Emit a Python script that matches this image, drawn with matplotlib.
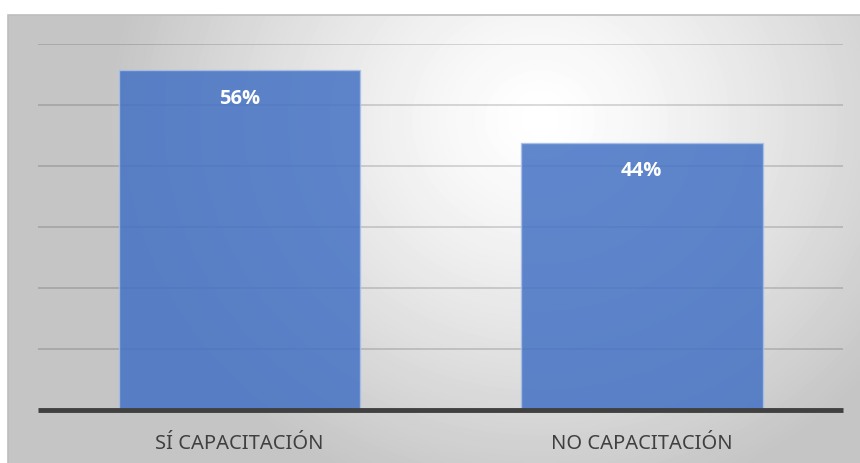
import numpy as np
import matplotlib
matplotlib.use("Agg")
import matplotlib.pyplot as plt
from matplotlib.patches import Rectangle

plt.rcParams['font.family'] = ['Noto Sans', 'DejaVu Sans']

categories = ['SÍ CAPACITACIÓN', 'NO CAPACITACIÓN']
values = [0.557, 0.438]
labels = ['56%', '44%']

W, H = 860, 463
fig = plt.figure(figsize=(W / 100, H / 100), dpi=100)

# chart area background with radial gradient (white centre, grey edges)
x0, y0 = 8, 15
bg = fig.add_axes([x0 / W, 0, 1 - x0 / W, 1 - y0 / H], zorder=0)
xx, yy = np.meshgrid(np.arange(x0, W), np.arange(y0, H))
r = np.sqrt((xx - 540) ** 2 + ((yy - 120) * 1.1) ** 2) / 430
shade = (255 - 58 * np.clip(r, 0, 1) ** 1.3) / 255
bg.imshow(shade, cmap='gray', vmin=0, vmax=1, aspect='auto', interpolation='bilinear')
bg.set_axis_off()
fig.patches.append(Rectangle((x0 / W, -0.01), 1.0, 1 - y0 / H + 0.01, transform=fig.transFigure,
                             fill=False, edgecolor='#bdbdbd', linewidth=1.2, zorder=1))

# plot area
ax = fig.add_axes([38 / W, 1 - 410 / H, (843 - 38) / W, (410 - 44) / H], zorder=2)
ax.patch.set_alpha(0)
x = np.arange(len(categories))
bars = ax.bar(x, values, width=0.6, color='#4472C4', alpha=0.85,
              edgecolor='#a9c0e8', linewidth=1, zorder=2)

for xi, v, lab in zip(x, values, labels):
    ax.annotate(lab, (xi, v), xytext=(0, -20.5), textcoords='offset points',
                ha='center', va='center', color='white', fontsize=14.5, fontweight='bold',
                family=['Open Sans', 'DejaVu Sans'], zorder=4)

ax.set_xlim(-0.5, 1.5)
ax.set_ylim(0, 0.6)
for g in np.arange(0.1, 0.61, 0.1):
    ax.axhline(g, color='black', alpha=0.17, linewidth=1.2, zorder=1)
ax.axhline(0, color='#404040', linewidth=3.5, solid_capstyle='butt', zorder=3, clip_on=False)

ax.set_yticks([])
ax.set_xticks(x)
ax.set_xticklabels(categories, fontsize=14.5, color='#404040')
ax.tick_params(axis='x', length=0, pad=17)
for s in ax.spines.values():
    s.set_visible(False)

fig.savefig('out.png', dpi=100)
